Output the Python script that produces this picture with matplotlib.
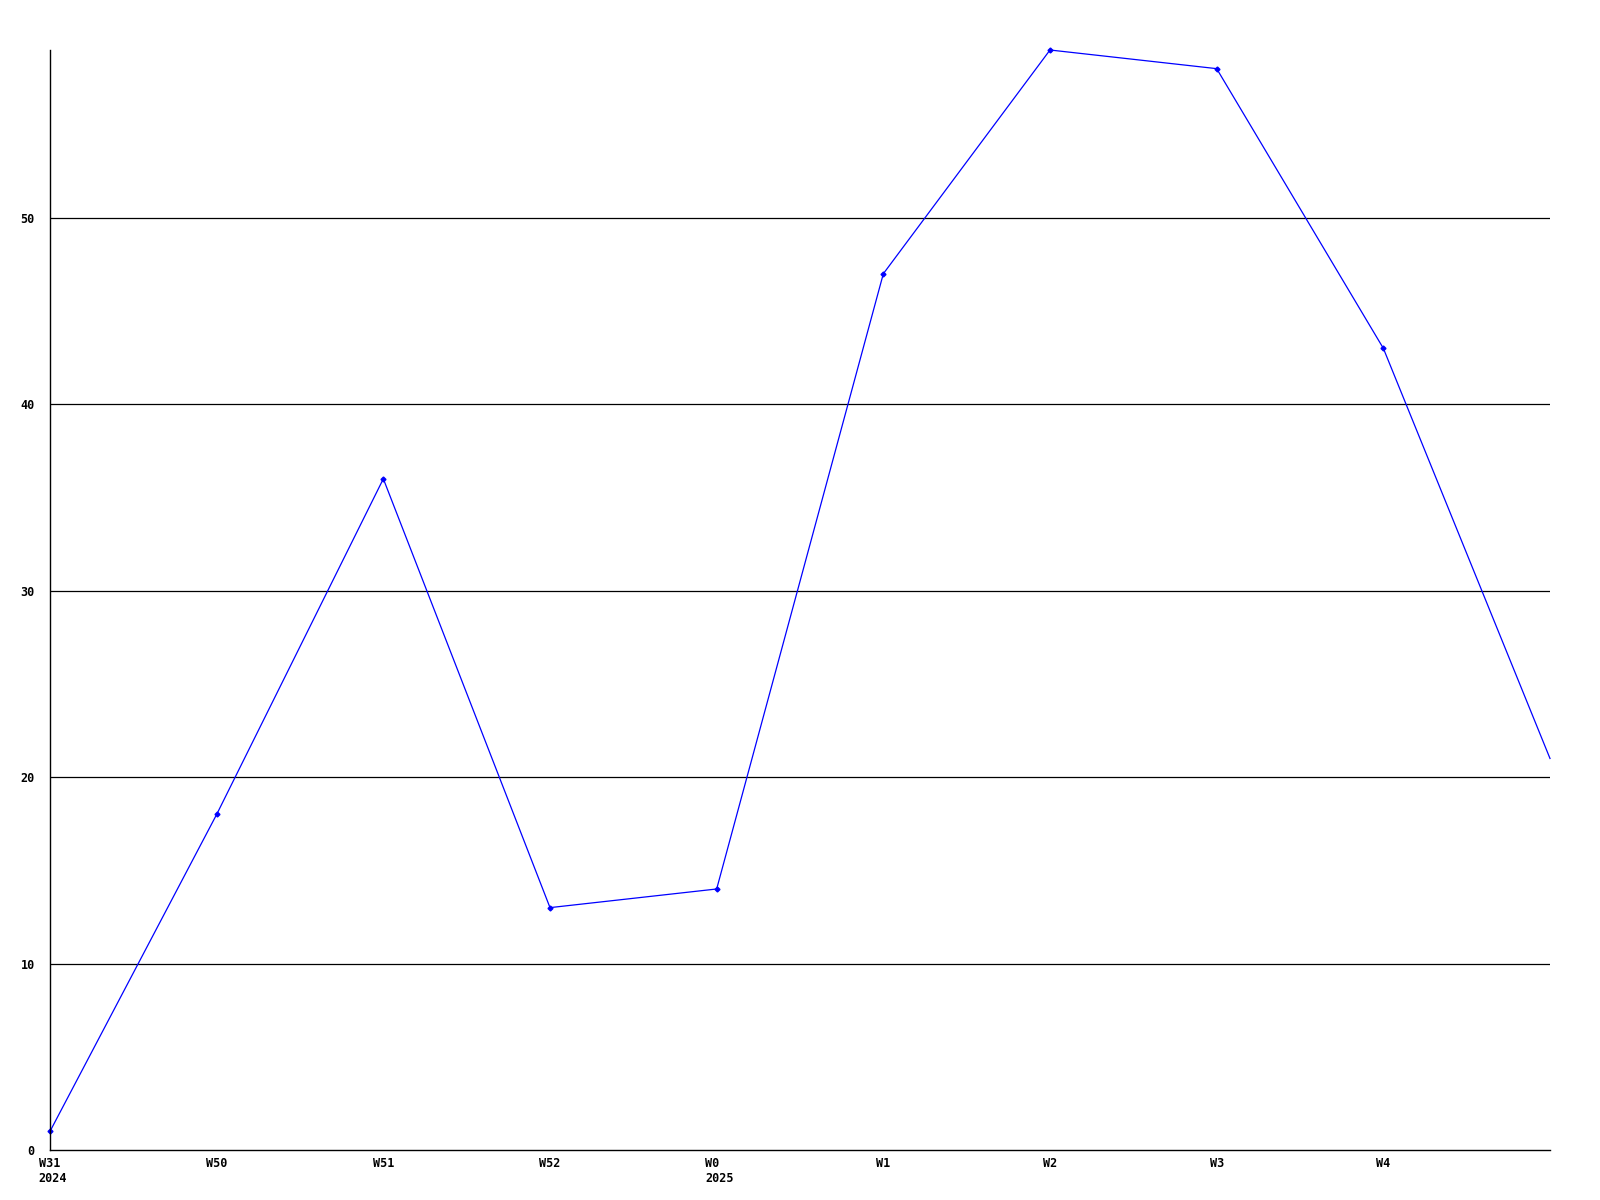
import matplotlib
matplotlib.use("Agg")
import matplotlib.pyplot as plt
import matplotlib.transforms as mtransforms

weeks = ["W31\n2024", "W50", "W51", "W52", "W0\n2025", "W1", "W2", "W3", "W4", ""]
values = [1, 18, 36, 13, 14, 47, 59, 58, 43, 21]
yticks = [0, 10, 20, 30, 40, 50]

fig = plt.figure(figsize=(16, 12), dpi=100)
ax = fig.add_axes([50 / 1600, 50 / 1200, 1500 / 1600, 1100 / 1200])
x = list(range(len(values)))
ax.plot(x, values, color="#0000ff", lw=0.9, marker="D", ms=2.5,
        markevery=list(range(len(values) - 1)), clip_on=False)
ax.set_xlim(0, len(values) - 1)
ax.set_ylim(0, 59)
ax.set_yticks(yticks)
ax.set_yticklabels([str(v) for v in yticks])
ax.set_xticks(x)
ax.set_xticklabels(weeks, linespacing=1.2)
for v in yticks[1:]:
    ax.axhline(v, color="black", lw=0.9, zorder=0)
for s in ["top", "right"]:
    ax.spines[s].set_visible(False)
for s in ["left", "bottom"]:
    ax.spines[s].set_linewidth(1.0)
ax.tick_params(axis="both", length=0)
ax.tick_params(axis="y", pad=11)
ax.tick_params(axis="x", pad=5)
for lab in ax.get_xticklabels() + ax.get_yticklabels():
    lab.set_fontfamily("DejaVu Sans Mono")
    lab.set_fontweight("bold")
    lab.set_fontsize(8.5)
shift = mtransforms.ScaledTranslation(3 / 100, 0, fig.dpi_scale_trans)
for lab in ax.get_xticklabels():
    lab.set_horizontalalignment("center")
    lab.set_multialignment("left")
    if "\n" in lab.get_text():
        lab.set_transform(lab.get_transform() + shift)
fig.savefig("out.png", dpi=100)
